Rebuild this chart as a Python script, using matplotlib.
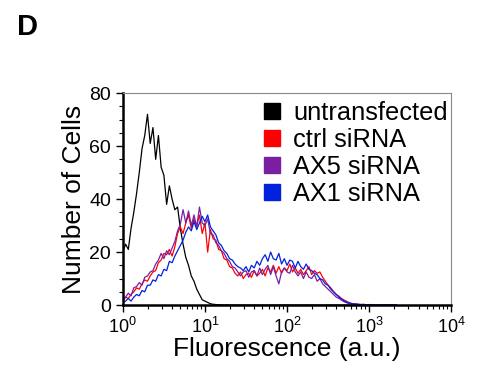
import numpy as np
import matplotlib
matplotlib.use("Agg")
import matplotlib.pyplot as plt
from matplotlib.ticker import MultipleLocator, LogLocator, NullFormatter

plt.rcParams['font.family'] = ['Liberation Sans', 'DejaVu Sans']
plt.rcParams['mathtext.default'] = 'regular'

# channel positions: 30 channels per decade, starting at 10^0
n_per_decade = 30

untransfected = [20, 23, 21, 29, 35, 42, 50, 59, 64, 72,
                 61, 67, 55, 64, 52, 49, 38, 45, 40, 36,
                 37, 29, 23, 18, 15, 11, 9, 6, 4, 2,
                 1.5, 1, 0.5, 0.3, 0.2, 0.1, 0.1, 0, 0.1, 0,
                 0, 0, 0, 0, 0, 0, 0, 0, 0, 0,
                 0, 0, 0, 0, 0, 0, 0, 0, 0, 0,
                 0, 0, 0, 0, 0, 0, 0, 0, 0, 0,
                 0, 0, 0, 0, 0, 0, 0, 0, 0, 0,
                 0, 0, 0, 0, 0, 0, 0, 0, 0, 0,
                 0, 0, 0, 0, 0, 0, 0, 0, 0, 0, 0]

ctrl = [2, 3, 2.5, 4, 5, 6.5, 6, 8, 9.5, 9,
        11, 12.5, 13, 16, 17, 19.5, 19, 21, 18.5, 22,
        27, 29.5, 27, 31, 34, 29, 32.5, 30, 34, 27,
        31, 20, 28.5, 25, 24.5, 21, 20.5, 17.5, 17, 14.5,
        14, 12, 11, 12.5, 10, 11.5, 12, 10.5, 13, 11,
        12, 13.5, 11, 14, 12.5, 15, 12, 14.5, 12, 14,
        13, 15.5, 12.5, 14, 12, 13.5, 11.5, 13, 14.5, 11.5,
        13, 12, 12.5, 10.5, 9, 7.5, 6.5, 5, 4, 3.3,
        2.4, 1.8, 1.3, 0.8, 0.5, 0.4, 0.3, 0.2, 0.3, 0.1,
        0.2, 0.1, 0, 0.1, 0, 0, 0, 0, 0, 0, 0]

ax5 = [1.5, 3, 4.5, 3.5, 6.5, 7, 8.5, 7.5, 10.5, 11,
       12.5, 13, 15.5, 17, 19.5, 17.5, 20.5, 19, 21.5, 24,
       28, 30.5, 36, 31, 35.5, 30, 34, 29.5, 37, 31,
       30, 32.5, 27, 26.5, 23.5, 22.5, 20.5, 19.5, 17.5, 16.5,
       14.5, 14, 12.5, 11, 12.5, 13, 10.5, 12.5, 13, 11,
       14, 11.5, 13.5, 15, 11.5, 14.5, 11, 8, 12.5, 14,
       12.5, 12, 15, 12.5, 11, 12.5, 10, 12.5, 10.5, 10,
       11.5, 9, 10, 8, 7, 6, 5, 4, 3, 2.5,
       1.8, 1.2, 0.8, 0.5, 0.3, 0.3, 0.2, 0.1, 0.1, 0,
       0, 0.1, 0, 0, 0, 0, 0, 0, 0, 0, 0]

ax1 = [1, 1.5, 2.5, 1.5, 3, 4, 3.5, 5.5, 5, 7.5,
       7.5, 9.5, 9, 11.5, 11, 13.5, 13, 16.5, 16, 18.5,
       20.5, 22.5, 24.5, 27.5, 29.5, 28, 31.5, 28.5, 31, 33.5,
       31.5, 34, 29.5, 28, 26.5, 23.5, 22.5, 20.5, 19.5, 17.5,
       17, 15.5, 14.5, 14, 13, 14.5, 12.5, 15, 14, 16.5,
       15, 17.5, 19, 16.5, 20, 17.5, 17, 19.5, 15.5, 17.5,
       15, 17, 16.5, 14, 16.5, 14.5, 13.5, 15.5, 13.5, 13,
       12, 11.5, 10, 9.5, 8, 7.5, 6, 5, 4, 3,
       2.2, 1.5, 1, 0.7, 0.5, 0.4, 0.3, 0.2, 0.2, 0.1,
       0.1, 0.2, 0, 0.1, 0, 0, 0, 0.2, 0, 0, 0]

labels = ["untransfected", "ctrl siRNA", "AX5 siRNA", "AX1 siRNA"]
colors = ["#000000", "#ff0000", "#7a1fa2", "#0022dd"]
series = [untransfected, ctrl, ax5, ax1]

fig = plt.figure(figsize=(4.78, 3.68), dpi=100)
ax = fig.add_axes([0.257, 0.171, 0.687, 0.576])

for vals, c, lab in zip(series, colors, labels):
    x = 10 ** (np.arange(len(vals)) / n_per_decade)
    ax.plot(x, vals, color=c, lw=0.9)
    ax.plot([], [], 's', color=c, markersize=11, label=lab)

ax.set_xscale('log')
ax.set_xlim(1, 1e4)
ax.set_ylim(0, 80)
ax.yaxis.set_major_locator(MultipleLocator(20))
ax.yaxis.set_minor_locator(MultipleLocator(5))
ax.xaxis.set_major_locator(LogLocator(base=10))
ax.xaxis.set_minor_locator(LogLocator(base=10, subs=np.arange(2, 10)))
ax.xaxis.set_minor_formatter(NullFormatter())

for s in ['left', 'bottom']:
    ax.spines[s].set_linewidth(1.8)
for s in ['top', 'right']:
    ax.spines[s].set_linewidth(0.8)
    ax.spines[s].set_color('#888888')

ax.tick_params(which='major', direction='out', length=5, width=1, labelsize=14)
ax.tick_params(axis='x', which='major', labelsize=13)
ax.tick_params(which='minor', direction='out', length=3, width=0.8)

ax.set_xlabel("Fluorescence (a.u.)", fontsize=19, labelpad=0)
ax.set_ylabel("Number of Cells", fontsize=19, labelpad=2)

ax.legend(loc='upper left', bbox_to_anchor=(0.422, 0.962), frameon=False,
          fontsize=18.3, handlelength=0.8, handletextpad=0.45, labelspacing=0.12,
          borderpad=0, borderaxespad=0)

fig.text(0.035, 0.965, "D", fontsize=21, fontweight='bold', va='top')

fig.savefig("out.png", dpi=100)
